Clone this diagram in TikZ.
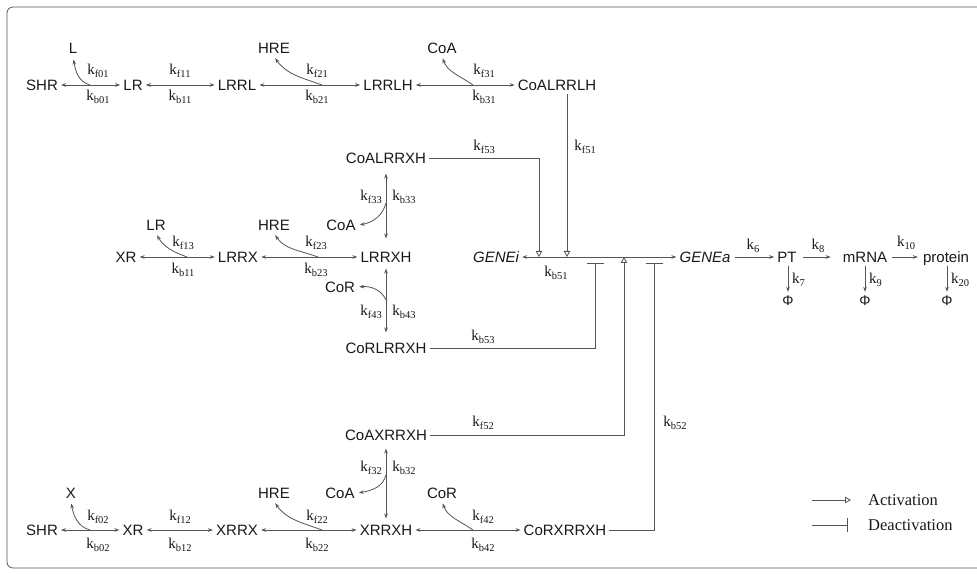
\documentclass[tikz,border=0pt]{standalone}
\usepackage{fontspec}
\setmainfont{Liberation Serif}
\newfontfamily\sansf{Liberation Sans}
\usetikzlibrary{arrows.meta}
\definecolor{lc}{RGB}{85,85,85}
\definecolor{tc}{RGB}{25,25,25}
\newcommand\kk[1]{k\raisebox{-0.35ex}{\fontsize{10.5}{11}\selectfont #1}}
\tikzset{
  spc/.style={font=\sansf\fontsize{15}{18}\selectfont, text=tc, text height=10.7pt, text depth=0pt, inner sep=3pt},
  spci/.style={spc, font=\sansf\itshape\fontsize{15}{18}\selectfont},
  phin/.style={font=\sansf\fontsize{14}{16}\selectfont, text=tc, text height=10pt, text depth=0pt, inner sep=2pt},
  klab/.style={font=\fontsize{15}{18}\selectfont, text=tc, inner sep=0pt},
  lin/.style={draw=lc, line width=0.8pt},
  revr/.style={lin, {Stealth[length=5pt,width=3.6pt]}-{Stealth[length=5pt,width=3.6pt]}},
  fwdr/.style={lin, -{Stealth[length=5pt,width=3.6pt]}},
  actv/.style={lin, -{Triangle[open,length=6pt,width=6.5pt]}},
  inhb/.style={lin, -{Bar[width=17pt,line width=1.2pt]}},
  legt/.style={font=\fontsize{16.5}{20}\selectfont, text=tc, anchor=west, inner sep=0pt},
}
\begin{document}
\begin{tikzpicture}[x=1pt,y=1pt]
\useasboundingbox (0,0) rectangle (977,573);
\fill[white] (0,0) rectangle (977,573);
\draw[lc, line width=0.8pt, rounded corners=6pt] (7,5) rectangle (995,566);

% ---------- top row ----------
\node[spc] (SHRa) at (42,488) {SHR};
\node[spc] (LRa) at (133,488) {LR};
\node[spc] (LRRL) at (237,488) {LRRL};
\node[spc] (LRRLH) at (388,488) {LRRLH};
\node[spc] (CoALRRLH) at (557,488) {CoALRRLH};
\node[spc] (Lt) at (73,525) {L};
\node[spc] (HREa) at (274,525) {HRE};
\node[spc] (CoAa) at (442,525) {CoA};
\node[klab] (kf01) at (98,502) {\kk{f01}};
\node[klab] (kb01) at (98,476) {\kk{b01}};
\node[klab] (kf11) at (180,502) {\kk{f11}};
\node[klab] (kb11) at (180,476) {\kk{b11}};
\node[klab] (kf21) at (317,502) {\kk{f21}};
\node[klab] (kb21) at (317,476) {\kk{b21}};
\node[klab] (kf31) at (484,502) {\kk{f31}};
\node[klab] (kb31) at (484,476) {\kk{b31}};
\draw[revr] (SHRa) -- (LRa);
\draw[revr] (LRa) -- (LRRL);
\draw[revr] (LRRL) -- (LRRLH);
\draw[revr] (LRRLH) -- (CoALRRLH);
\coordinate (c01) at (90,488);
\coordinate (c21) at (322,488);
\coordinate (c31) at (473,488);
\draw[fwdr, shorten >=3pt] (c01) to[out=165,in=-80] (Lt.south);
\draw[fwdr, shorten >=2pt] (c21) to[out=160,in=-55] (HREa.south);
\draw[fwdr, shorten >=2pt] (c31) to[out=145,in=-70] (CoAa.south);

% ---------- middle row ----------
\node[spc] (XRm) at (126,316) {XR};
\node[spc] (LRRX) at (238,316) {LRRX};
\node[spc] (LRRXH) at (386,316) {LRRXH};
\node[spc] (LRm) at (156,348) {LR};
\node[spc] (HREm) at (274,348) {HRE};
\node[klab] (kf13) at (183,330) {\kk{f13}};
\node[klab] (kb11m) at (183,303) {\kk{b11}};
\node[klab] (kf23) at (316,330) {\kk{f23}};
\node[klab] (kb23) at (316,303) {\kk{b23}};
\draw[revr] (XRm) -- (LRRX);
\draw[revr] (LRRX) -- (LRRXH);
\coordinate (c13) at (187,316);
\coordinate (c23) at (318,316);
\draw[fwdr, shorten >=2pt] (c13) to[out=160,in=-60] (LRm.south);
\draw[fwdr, shorten >=2pt] (c23) to[out=160,in=-55] (HREm.south);

\node[spc] (CoALRRXH) at (386,415) {CoALRRXH};
\node[spc] (CoAm) at (341,348) {CoA};
\node[klab] (kf33) at (371,376) {\kk{f33}};
\node[klab] (kb33) at (404,376) {\kk{b33}};
\draw[revr, shorten <=7pt, shorten >=10pt] (CoALRRXH.south) -- (LRRXH.north);
\coordinate (c33) at (386,370);
\draw[fwdr, shorten >=1pt] (c33) to[out=-105,in=10] (CoAm.east);

\node[spc] (CoRm) at (340,286) {CoR};
\node[klab] (kf43) at (371,261) {\kk{f43}};
\node[klab] (kb43) at (404,261) {\kk{b43}};
\node[spc] (CoRLRRXH) at (386,225) {CoRLRRXH};
\draw[revr, shorten <=3pt, shorten >=7pt] (LRRXH.south) -- (CoRLRRXH.north);
\coordinate (c43) at (386,273);
\draw[fwdr, shorten >=1pt] (c43) to[out=115,in=5] (CoRm.east);

% ---------- gene switch ----------
\node[spci] (GENEi) at (496,316) {GENEi};
\node[spci] (GENEa) at (705,316) {GENEa};
\draw[revr] (GENEi) -- (GENEa);
\node[klab] (kb51) at (556,300) {\kk{b51}};
\node[klab] (kf53) at (484,426) {\kk{f53}};
\node[klab] (kf51) at (585,426) {\kk{f51}};
\node[klab] (kb53) at (483,236) {\kk{b53}};
\node[klab] (kf52) at (483,150) {\kk{f52}};
\node[klab] (kb52) at (675,150) {\kk{b52}};
\coordinate (a53) at (539,316);
\coordinate (a51) at (567,316);
\coordinate (a52) at (624,316);
\coordinate (b53) at (595,310);
\coordinate (b52) at (654,310);
\draw[actv] (CoALRRLH.south -| a51) -- (a51);
\draw[actv] (CoALRRXH.east) -| (a53);
\draw[inhb] (CoRLRRXH.east) -| (b53);

% ---------- right chain ----------
\node[spc] (PT) at (787,316) {PT};
\node[spc] (mRNA) at (865,316) {mRNA};
\node[spc] (protein) at (946,316) {protein};
\node[klab] (k6) at (753,327) {\kk{6}};
\node[klab] (k8) at (818,327) {\kk{8}};
\node[klab] (k10) at (906,330) {\kk{10}};
\draw[fwdr, shorten <=1pt] (GENEa) -- (PT);
\draw[fwdr, shorten <=3pt, shorten >=9pt] (PT) -- (mRNA);
\draw[fwdr, shorten <=2pt, shorten >=2pt] (mRNA) -- (protein);
\node[phin] (phi1) at (788,272) {Φ};
\node[phin] (phi2) at (865,272) {Φ};
\node[phin] (phi3) at (947,272) {Φ};
\node[klab, anchor=west] (k7) at (792,293) {\kk{7}};
\node[klab, anchor=west] (k9) at (869,293) {\kk{9}};
\node[klab, anchor=west] (k20) at (951,293) {\kk{20}};
\draw[fwdr, shorten >=2pt] (PT.south -| phi1) -- (phi1.north);
\draw[fwdr, shorten >=2pt] (mRNA.south -| phi2) -- (phi2.north);
\draw[fwdr, shorten >=2pt] (protein.south -| phi3) -- (phi3.north);

% ---------- bottom part ----------
\node[spc] (CoAXRRXH) at (386,138) {CoAXRRXH};
\node[klab] (kf32) at (371,105) {\kk{f32}};
\node[klab] (kb32) at (404,105) {\kk{b32}};
\node[spc] (CoAb) at (340,80) {CoA};
\node[spc] (SHRb) at (42,43) {SHR};
\node[spc] (XRb) at (133,43) {XR};
\node[spc] (XRRX) at (237,43) {XRRX};
\node[spc] (XRRXH) at (386,43) {XRRXH};
\node[spc] (CoRXRRXH) at (565,43) {CoRXRRXH};
\node[spc] (Xt) at (71,80) {X};
\node[spc] (HREb) at (274,80) {HRE};
\node[spc] (CoRb) at (442,80) {CoR};
\node[klab] (kf02) at (98,56) {\kk{f02}};
\node[klab] (kb02) at (98,28) {\kk{b02}};
\node[klab] (kf12) at (180,56) {\kk{f12}};
\node[klab] (kb12) at (180,28) {\kk{b12}};
\node[klab] (kf22) at (317,56) {\kk{f22}};
\node[klab] (kb22) at (317,28) {\kk{b22}};
\node[klab] (kf42) at (483,56) {\kk{f42}};
\node[klab] (kb42) at (483,28) {\kk{b42}};
\draw[revr] (SHRb) -- (XRb);
\draw[revr] (XRb) -- (XRRX);
\draw[revr] (XRRX) -- (XRRXH);
\draw[revr] (XRRXH) -- (CoRXRRXH);
\draw[revr, shorten <=5pt, shorten >=3pt] (CoAXRRXH.south) -- (XRRXH.north);
\coordinate (c02) at (90,43);
\coordinate (c22) at (322,43);
\coordinate (c42) at (473,43);
\coordinate (c32) at (386,98);
\draw[fwdr, shorten >=2pt] (c02) to[out=165,in=-80] (Xt.south);
\draw[fwdr, shorten >=2pt] (c22) to[out=160,in=-55] (HREb.south);
\draw[fwdr, shorten >=2pt] (c42) to[out=145,in=-70] (CoRb.south);
\draw[fwdr, shorten >=1pt] (c32) to[out=-105,in=10] (CoAb.east);
\draw[actv] (CoAXRRXH.east) -| (a52);
\draw[inhb] (CoRXRRXH.east) -| (b52);

% ---------- legend ----------
\coordinate (la1) at (812,73);
\coordinate (la2) at (851,73);
\coordinate (ld1) at (812,48);
\coordinate (ld2) at (848,48);
\draw[lin, -{Triangle[open,length=6pt,width=6.5pt]}] (la1) -- (la2);
\draw[lin, -{Bar[width=13pt,line width=1.2pt]}] (ld1) -- (ld2);
\node[legt] (lact) at (868,73) {Activation};
\node[legt] (ldeact) at (868,48) {Deactivation};
\end{tikzpicture}
\end{document}
